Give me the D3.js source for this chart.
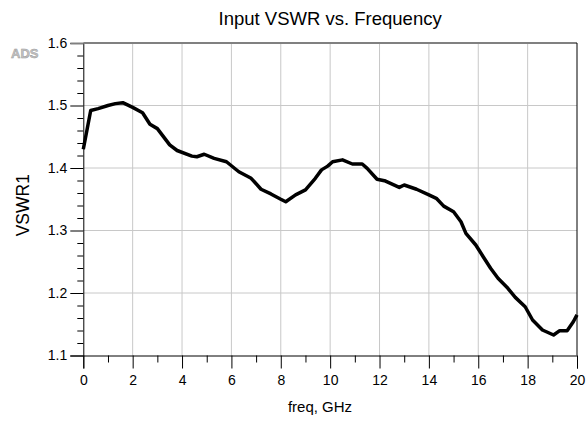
<!DOCTYPE html>
<html>
<head>
<meta charset="utf-8">
<script src="https://cdn.jsdelivr.net/npm/d3@7"></script>
<style>
  body { margin: 0; background: #fff; }
  svg { display: block; font-family: "Liberation Sans", Arial, sans-serif; }
</style>
</head>
<body>
<svg></svg>
<script>
// data (GHz, VSWR)
const freq = [0, 0.3, 0.6, 1.0, 1.3, 1.6, 2.0, 2.4, 2.7, 3.0, 3.5, 3.8, 4.4, 4.6, 4.9,
  5.3, 5.8, 6.3, 6.8, 7.2, 7.6, 8.0, 8.2, 8.6, 9.0, 9.4, 9.65, 9.9, 10.1, 10.5,
  10.9, 11.3, 11.5, 11.9, 12.2, 12.8, 13.0, 13.5, 14.0, 14.3, 14.6, 15.0, 15.3,
  15.5, 15.9, 16.2, 16.5, 16.8, 17.2, 17.5, 17.9, 18.2, 18.6, 19.05, 19.3, 19.6,
  19.85, 20];
const vswr = [1.43, 1.492, 1.495, 1.500, 1.503, 1.5045, 1.497, 1.4885, 1.47, 1.463,
  1.437, 1.428, 1.419, 1.418, 1.422, 1.4155, 1.41, 1.394, 1.3835, 1.366, 1.3585,
  1.35, 1.346, 1.357, 1.365, 1.3835, 1.397, 1.403, 1.41, 1.413, 1.4064, 1.4064,
  1.3995, 1.382, 1.3797, 1.369, 1.3728, 1.366, 1.357, 1.3515, 1.339, 1.33, 1.314,
  1.2955, 1.2768, 1.258, 1.2395, 1.2235, 1.2075, 1.193, 1.178, 1.1568, 1.1408,
  1.1328, 1.1397, 1.1397, 1.154, 1.165];

const xTicks = [0, 2, 4, 6, 8, 10, 12, 14, 16, 18, 20];
const xMinor = [1, 3, 5, 7, 9, 11, 13, 15, 17, 19];
const yTicks = [1.1, 1.2, 1.3, 1.4, 1.5, 1.6];
const yMinor = d3.range(1.1, 1.6, 0.02).filter((d, i) => i % 5 !== 0);

const width = 588, height = 427;
const margin = { top: 43, right: 11, bottom: 71.5, left: 83.3 };

const svg = d3.select("svg")
  .attr("width", width)
  .attr("height", height);

const x = d3.scaleLinear()
  .domain([0, 20])
  .range([margin.left, width - margin.right]);

const y = d3.scaleLinear()
  .domain([1.1, 1.6])
  .range([height - margin.bottom, margin.top]);

// grid
svg.append("g")
  .selectAll("line")
  .data(xTicks.slice(1, -1))
  .join("line")
  .attr("x1", d => x(d)).attr("x2", d => x(d))
  .attr("y1", y(1.6)).attr("y2", y(1.1))
  .attr("stroke", "#c8c8c8");

svg.append("g")
  .selectAll("line")
  .data(yTicks.slice(1, -1))
  .join("line")
  .attr("x1", x(0)).attr("x2", x(20))
  .attr("y1", d => y(d)).attr("y2", d => y(d))
  .attr("stroke", "#c8c8c8");

// axes
const yAxis = svg.append("g")
  .attr("transform", `translate(${x(0)},0)`)
  .call(d3.axisLeft(y).tickValues(yTicks).tickSize(13).tickPadding(3)
    .tickFormat(d3.format("~g")));

svg.append("g")
  .attr("transform", `translate(${x(0)},0)`)
  .call(d3.axisLeft(y).tickValues(yMinor).tickSize(6).tickFormat(""))
  .call(g => g.select(".domain").remove());

const xAxis = svg.append("g")
  .attr("transform", `translate(0,${y(1.1)})`)
  .call(d3.axisBottom(x).tickValues(xTicks).tickSize(13).tickPadding(7));

svg.append("g")
  .attr("transform", `translate(0,${y(1.1)})`)
  .call(d3.axisBottom(x).tickValues(xMinor).tickSize(7).tickFormat(""))
  .call(g => g.select(".domain").remove());

svg.selectAll(".tick text")
  .style("font-size", "14px")
  .style("font-family", "Liberation Sans, Arial, sans-serif")
  .attr("fill", "#000");
svg.selectAll(".domain").attr("stroke", "#000");

// top tick + border gray
yAxis.selectAll(".tick")
  .filter(d => d === 1.6)
  .select("line").attr("stroke", "#808080").attr("stroke-width", 2);

svg.append("line")
  .attr("x1", x(0)).attr("x2", x(20))
  .attr("y1", y(1.6)).attr("y2", y(1.6))
  .attr("stroke", "#808080")
  .attr("stroke-width", 2);

svg.append("line")
  .attr("x1", x(20)).attr("x2", x(20))
  .attr("y1", y(1.6)).attr("y2", y(1.1))
  .attr("stroke", "#000");

// curve
const line = d3.line()
  .x((d, i) => x(freq[i]))
  .y(d => y(d));

svg.append("path")
  .datum(vswr)
  .attr("fill", "none")
  .attr("stroke", "#000")
  .attr("stroke-width", 3.5)
  .attr("stroke-linejoin", "round")
  .attr("d", line);

// title & labels
svg.append("text")
  .attr("x", (x(0) + x(20)) / 2)
  .attr("y", 25)
  .attr("text-anchor", "middle")
  .style("font-size", "18.5px")
  .text("Input VSWR vs. Frequency");

svg.append("text")
  .attr("x", 320)
  .attr("y", 412)
  .attr("text-anchor", "middle")
  .style("font-size", "15px")
  .text("freq, GHz");

svg.append("text")
  .attr("transform", `translate(29,${(y(1.6) + y(1.1)) / 2 + 6}) rotate(-90)`)
  .attr("text-anchor", "middle")
  .style("font-size", "17.5px")
  .text("VSWR1");

// ADS watermark
svg.append("text")
  .attr("x", 11)
  .attr("y", 58)
  .style("font-size", "13px")
  .style("font-weight", "bold")
  .attr("fill", "#c4c4c4")
  .attr("stroke", "#9a9a9a")
  .attr("stroke-width", 0.5)
  .text("ADS");
</script>
</body>
</html>
